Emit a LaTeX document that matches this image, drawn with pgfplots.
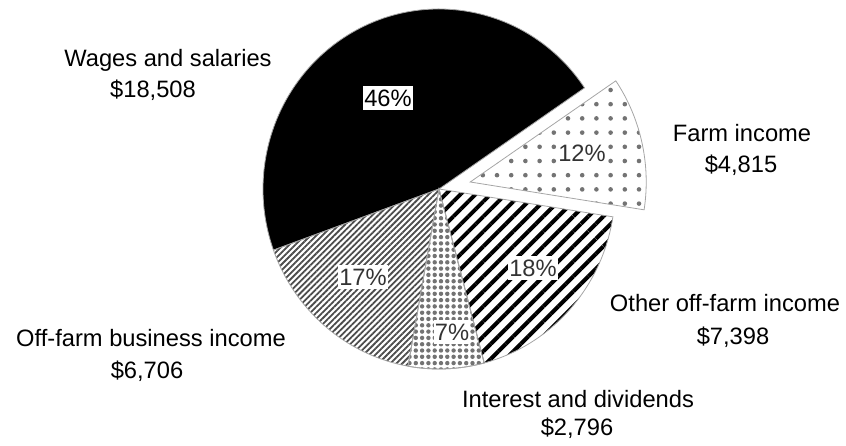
\documentclass[border=0pt]{standalone}
\usepackage{pgfplots}
\pgfplotsset{compat=1.18}
\usepackage{pgfplotstable}
\usetikzlibrary{patterns.meta}
\usepackage{fontspec}
\setmainfont{Liberation Sans}

% slices in drawing order (counter-clockwise from the start angle)
\pgfplotstableread{
slice value explode lx ly
wages 18508 0 388 347
business 6706 0 363 168
interest 2796 0 452 113
other 7398 0 533 177
farm 4815 32 582 292
}\piedata

\newcommand\readslice[2]{%
  \pgfplotstablegetelem{#1}{value}\of\piedata\expandafter\edef\csname v#2\endcsname{\pgfplotsretval}%
  \pgfplotstablegetelem{#1}{explode}\of\piedata\expandafter\edef\csname e#2\endcsname{\pgfplotsretval}%
  \pgfplotstablegetelem{#1}{lx}\of\piedata\expandafter\edef\csname lx#2\endcsname{\pgfplotsretval}%
  \pgfplotstablegetelem{#1}{ly}\of\piedata\expandafter\edef\csname ly#2\endcsname{\pgfplotsretval}%
}
\readslice{0}{A}\readslice{1}{B}\readslice{2}{C}\readslice{3}{D}\readslice{4}{E}

\def\cx{439}\def\cy{256}
\def\rx{176}\def\ry{180}
\edef\tot{\fpeval{\vA+\vB+\vC+\vD+\vE}}
\edef\aA{34.2}
\edef\aB{\fpeval{round(\aA+360*\vA/\tot,4)}}
\edef\aC{\fpeval{round(\aB+360*\vB/\tot,4)}}
\edef\aD{\fpeval{round(\aC+360*\vC/\tot,4)}}
\edef\aE{\fpeval{round(\aD+360*\vD/\tot,4)}}
\edef\aF{\fpeval{round(\aE+360*\vE/\tot,4)}}
\newcommand\slicecalc[3]{% prefix, start, end
  \expandafter\edef\csname ox#1\endcsname{\fpeval{round(\cx+\csname e#1\endcsname*cosd((#2+#3)/2),4)}}%
  \expandafter\edef\csname oy#1\endcsname{\fpeval{round(\cy+\csname e#1\endcsname*sind((#2+#3)/2),4)}}%
  \expandafter\edef\csname p#1\endcsname{\fpeval{round(100*\csname v#1\endcsname/\tot)}}%
}
\slicecalc{A}{\aA}{\aB}\slicecalc{B}{\aB}{\aC}\slicecalc{C}{\aC}{\aD}
\slicecalc{D}{\aD}{\aE}\slicecalc{E}{\aE}{\aF}

\newcommand\pieslice[5]{% ox, oy, start, end, style
  \draw[#5] (axis cs:#1,#2) -- ++(#3:\rx pt and \ry pt)
    arc[start angle=#3, end angle=#4, x radius=\rx pt, y radius=\ry pt] -- cycle;}

\tikzset{
  edge/.style={draw=gray!70, line width=0.8pt, line join=miter},
  plab/.style={fill=white, inner xsep=1pt, inner ysep=4pt, font=\fontsize{23.7}{27}\selectfont, anchor=center},
  olab/.style={font=\fontsize{23.7}{27}\selectfont, anchor=base, text=black}
}

\begin{document}
\begin{tikzpicture}
\useasboundingbox (0,0) rectangle (846pt,445pt);
\begin{axis}[x=1pt, y=1pt, xmin=0, xmax=846, ymin=0, ymax=445,
  hide axis, clip=false, at={(0,0)}, anchor=south west]
  \pieslice{\oxA}{\oyA}{\aA}{\aB}{edge, fill=black}
  \pieslice{\oxB}{\oyB}{\aB}{\aC}{edge, pattern={Lines[angle=45, distance=4.2pt, line width=1.8pt]}, pattern color=black!70}
  \pieslice{\oxC}{\oyC}{\aC}{\aD}{edge, fill=white}
  \pieslice{\oxC}{\oyC}{\aC}{\aD}{edge, pattern={Dots[distance=6.3pt, radius=2.2pt]}, pattern color=black!55}
  \pieslice{\oxD}{\oyD}{\aD}{\aE}{edge, pattern={Lines[angle=45, distance=10.6pt, line width=4pt]}, pattern color=black}
  \pieslice{\oxE}{\oyE}{\aE}{\aF}{edge, pattern={Dots[distance=14.2pt, radius=2.3pt]}, pattern color=black!55}

  \node[plab, text=black] at (axis cs:\lxA,\lyA) {\pA\%};
  \node[plab, text=black!80] at (axis cs:\lxB,\lyB) {\pB\%};
  \node[plab, text=black!80] at (axis cs:\lxC,\lyC) {\pC\%};
  \node[plab, text=black!80] at (axis cs:\lxD,\lyD) {\pD\%};
  \node[plab, text=black!80] at (axis cs:\lxE,\lyE) {\pE\%};

  \node[olab] at (axis cs:168,378) {Wages and salaries};
  \node[olab] at (axis cs:153,347) {\$18,508};
  \node[olab] at (axis cs:742,303) {Farm income};
  \node[olab] at (axis cs:741,272) {\$4,815};
  \node[olab] at (axis cs:725,134) {Other off-farm income};
  \node[olab] at (axis cs:733,101) {\$7,398};
  \node[olab] at (axis cs:578,38) {Interest and dividends};
  \node[olab] at (axis cs:577,10) {\$2,796};
  \node[olab] at (axis cs:151,99) {Off-farm business income};
  \node[olab] at (axis cs:147,67) {\$6,706};
\end{axis}
\end{tikzpicture}
\end{document}
